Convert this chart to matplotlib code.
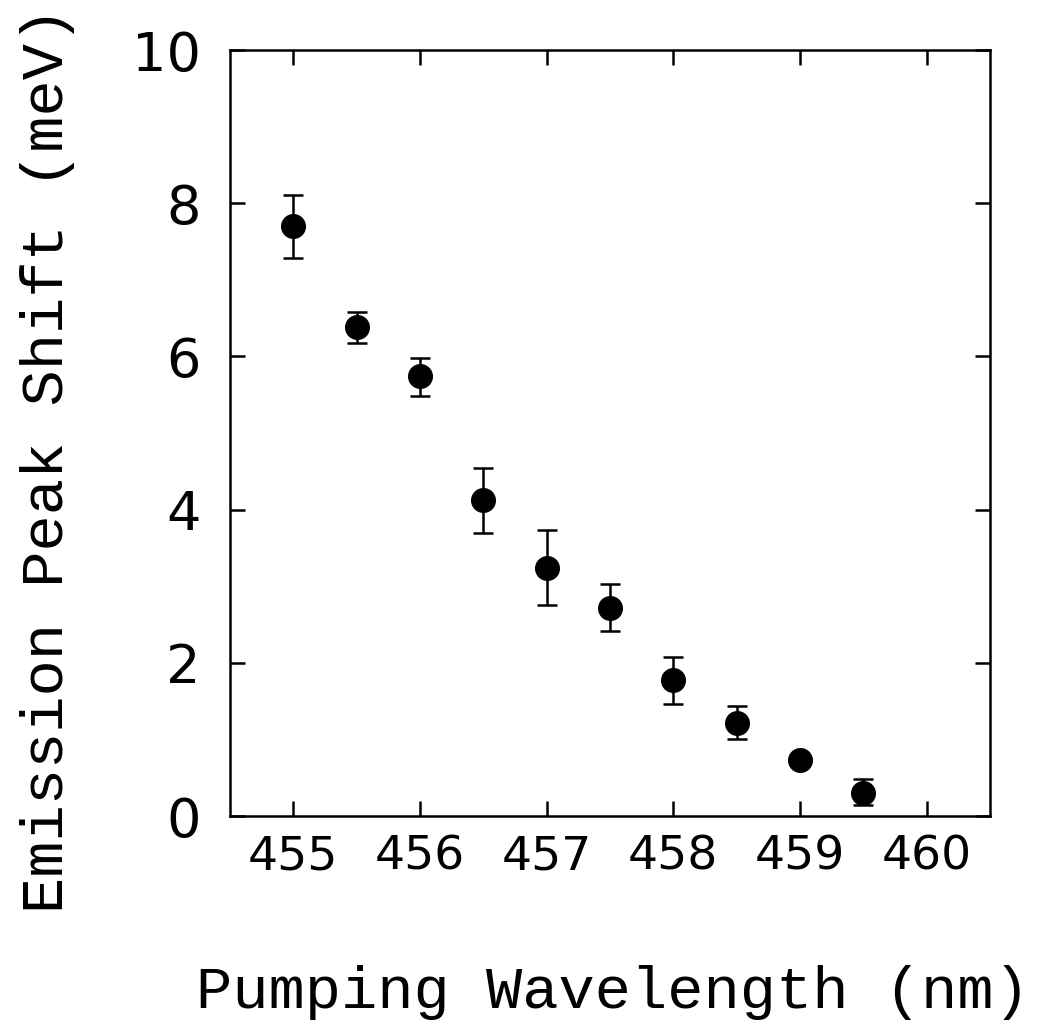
import matplotlib
matplotlib.use('Agg')
import matplotlib.pyplot as plt

# pumping wavelength (nm) and emission peak shift (meV)
wavelength = [455.0, 455.5, 456.0, 456.5, 457.0, 457.5, 458.0, 458.5, 459.0, 459.5]
shift = [7.70, 6.38, 5.74, 4.12, 3.24, 2.72, 1.77, 1.22, 0.73, 0.30]
err_up = [0.41, 0.20, 0.24, 0.43, 0.50, 0.31, 0.31, 0.21, 0.05, 0.18]
err_down = [0.42, 0.21, 0.25, 0.42, 0.49, 0.31, 0.31, 0.21, 0.05, 0.16]

x_ticks = [455, 456, 457, 458, 459, 460]
y_ticks = [0, 2, 4, 6, 8, 10]

fig = plt.figure(figsize=(10.47, 10.34), dpi=100)
ax = fig.add_axes([0.2197, 0.2108, 0.7259, 0.7408])

ax.errorbar(wavelength, shift, yerr=[err_down, err_up], fmt='o', color='black',
            markersize=17, capsize=7, elinewidth=1.8, capthick=1.8)

ax.set_xlim(454.5, 460.5)
ax.set_ylim(0, 10)
ax.set_xticks(x_ticks)
ax.set_yticks(y_ticks)
ax.set_xticklabels([str(t) for t in x_ticks], family='DejaVu Sans', fontsize=34)
ax.set_yticklabels([str(t) for t in y_ticks], family='DejaVu Sans', fontsize=39)

ax.tick_params(direction='in', top=True, right=True, length=11, width=1.8)
ax.tick_params(axis='x', pad=13)
ax.tick_params(axis='y', pad=21)
for s in ax.spines.values():
    s.set_linewidth(1.8)

# axis titles placed as figure text, like the original layout
fig.text(0.585, 0.040, 'Pumping Wavelength (nm)', family='Liberation Mono',
         fontsize=43.5, ha='center', va='center')
fig.text(0.045, 0.555, 'Emission Peak Shift (meV)', family='Liberation Mono',
         fontsize=43.5, ha='center', va='center', rotation=90)

fig.savefig('out.png', dpi=100)
